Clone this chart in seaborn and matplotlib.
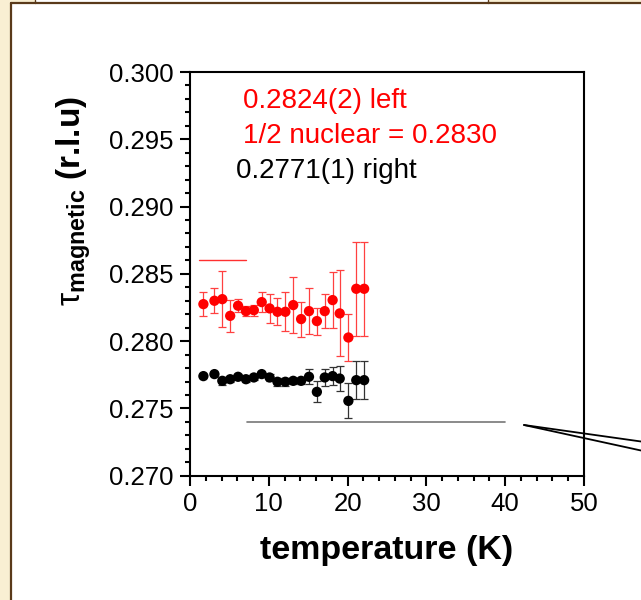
import matplotlib
matplotlib.use("Agg")
import matplotlib.pyplot as plt
import seaborn as sns
import numpy as np
import pandas as pd
from matplotlib.patches import Rectangle
from matplotlib.lines import Line2D

# ---- data ----
temperature = [1.7, 3.1, 4.1, 5.1, 6.1, 7.1, 8.1, 9.1, 10.1, 11.1, 12.1,
               13.1, 14.1, 15.1, 16.1, 17.1, 18.1, 19.0, 20.1, 21.1, 22.1]
tau_left = [0.28275, 0.28300, 0.28312, 0.28188, 0.28263, 0.28223, 0.28230,
            0.28290, 0.28243, 0.28218, 0.28218, 0.28268, 0.28164, 0.28223,
            0.28149, 0.28223, 0.28305, 0.28206, 0.28027, 0.28389, 0.28389]
err_left = [0.0009, 0.00093, 0.0021, 0.00117, 0.0005, 0.00035, 0.0004,
            0.00077, 0.00107, 0.0010, 0.00145, 0.0021, 0.0013, 0.0017,
            0.0010, 0.00126, 0.0021, 0.0032, 0.00176, 0.0035, 0.0035]
tau_right = [0.2774, 0.27755, 0.27705, 0.27717, 0.27735, 0.27717, 0.2773,
             0.27755, 0.2773, 0.27698, 0.27698, 0.27705, 0.27705, 0.27735,
             0.27623, 0.2773, 0.2774, 0.27722, 0.27556, 0.2771, 0.2771]
err_right = [0.0001, 0.0001, 0.0003, 0.0002, 0.0002, 0.0002, 0.0002,
             0.0001, 0.00025, 0.0003, 0.0003, 0.0002, 0.0002, 0.00055,
             0.00078, 0.0006, 0.00065, 0.00093, 0.0013, 0.0014, 0.0014]
red_line_x = [1.2, 7.1]
red_line_y = [0.2860, 0.2860]
gray_line_x = [7.2, 40.0]
gray_line_y = [0.2740, 0.2740]
x_ticks = [0, 10, 20, 30, 40, 50]
y_ticks = [0.270, 0.275, 0.280, 0.285, 0.290, 0.295, 0.300]
annotations = [("0.2824(2) left", 6.7, 0.29732, "#ff0000"),
               ("1/2 nuclear = 0.2830", 6.7, 0.29470, "#ff0000"),
               ("0.2771(1) right", 5.9, 0.29210, "#000000")]

sns.set_style("ticks")
plt.rcParams['font.family'] = ['Liberation Sans', 'DejaVu Sans']
plt.rcParams['mathtext.fontset'] = 'custom'
plt.rcParams['mathtext.rm'] = 'Liberation Sans:weight=normal'
plt.rcParams['mathtext.bf'] = 'Liberation Sans:bold'
plt.rcParams['mathtext.it'] = 'Liberation Sans:weight=normal'
for k in ('text.color', 'axes.labelcolor', 'xtick.color', 'ytick.color', 'axes.edgecolor'):
    plt.rcParams[k] = 'black'

fig = plt.figure(figsize=(6.41, 6.00), dpi=100)
fig.patch.set_facecolor('#F9EFD3')
W, H = 641.0, 600.0
brown = '#5A3A1A'

# white panel and frame
fig.add_artist(Rectangle((11 / W, 0), 1, (H - 3) / H, transform=fig.transFigure,
                         facecolor='white', edgecolor='none', zorder=-10))
fig.add_artist(Rectangle((35 / W, (H - 3) / H), (488 - 35) / W, 3 / H,
                         transform=fig.transFigure, facecolor='white',
                         edgecolor='none', zorder=-10))
fig.add_artist(Line2D([11 / W, 11 / W], [0, (H - 3) / H], transform=fig.transFigure,
                      color=brown, lw=1.6))
fig.add_artist(Line2D([11 / W, 1], [(H - 3) / H, (H - 3) / H], transform=fig.transFigure,
                      color=brown, lw=1.6))
for xx in (35, 488):
    fig.add_artist(Line2D([xx / W, xx / W], [(H - 3) / H, 1], transform=fig.transFigure,
                          color=brown, lw=1.0))

ax = fig.add_axes([190 / W, 1 - 475.7 / H, 394 / W, 403.7 / H])
ax.set_facecolor('none')

df = pd.DataFrame({
    'T': temperature + temperature,
    'tau': tau_left + tau_right,
    'side': ['left'] * len(temperature) + ['right'] * len(temperature),
})

ax.errorbar(temperature, tau_left, yerr=err_left, fmt='none', ecolor='#ff4040',
            elinewidth=0.9, capsize=3.2, capthick=0.9, zorder=2)
ax.errorbar(temperature, tau_right, yerr=err_right, fmt='none', ecolor='#333333',
            elinewidth=0.9, capsize=3.2, capthick=0.9, zorder=2)
sns.scatterplot(data=df, x='T', y='tau', hue='side',
                palette={'left': '#ff0000', 'right': '#000000'},
                s=55, edgecolor='none', legend=False, ax=ax, zorder=3)

ax.plot(red_line_x, red_line_y, color='#ff3030', lw=1.0, zorder=2)
ax.plot(gray_line_x, gray_line_y, color='#777777', lw=1.2, zorder=2)

for txt, xx, yy, c in annotations:
    ax.text(xx, yy, txt, color=c, fontsize=20, va='baseline', ha='left')

ax.set_xlim(0, 50)
ax.set_ylim(0.270, 0.300)
ax.set_xticks(x_ticks)
ax.set_yticks(y_ticks)
ax.set_xticklabels([str(v) for v in x_ticks])
ax.set_yticklabels([f"{v:.3f}" for v in y_ticks])
ax.set_xticks(np.arange(0, 50.1, 2), minor=True)
ax.set_yticks(np.linspace(0.270, 0.300, 31), minor=True)

for sp in ax.spines.values():
    sp.set_linewidth(1.5)
    sp.set_color('black')
ax.tick_params(which='major', direction='out', length=7, width=1.5,
               labelsize=18.5, pad=5, colors='black', top=False, right=False)
ax.tick_params(which='minor', direction='out', length=3.5, width=1.5,
               top=False, right=False)

ax.set_xlabel('temperature (K)', fontsize=24.5, fontweight='bold', color='black')
ax.xaxis.set_label_coords(0.5, -0.148)
ax.set_ylabel(r'$\mathrm{\tau}_{\mathbf{magnetic}}$ (r.l.u)', fontsize=24,
              fontweight='bold', color='black')
ax.yaxis.set_label_coords(-0.245, 0.68)

# pointer lines on the right
fig.add_artist(Line2D([524 / W, 641 / W], [1 - 425 / H, 1 - 441.5 / H],
                      transform=fig.transFigure, color='black', lw=1.3))
fig.add_artist(Line2D([524 / W, 641 / W], [1 - 425 / H, 1 - 450.5 / H],
                      transform=fig.transFigure, color='black', lw=1.3))

fig.savefig('out.png', dpi=100, facecolor=fig.get_facecolor())
